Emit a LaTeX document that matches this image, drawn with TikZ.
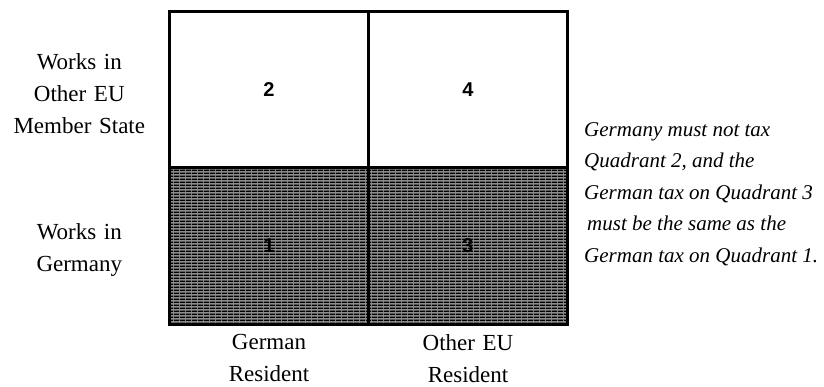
\documentclass[tikz,border=0pt]{standalone}
\usepackage{fontspec}
\setmainfont{Liberation Serif}
\setsansfont{Liberation Sans}
\usepackage{tikz}
\usetikzlibrary{positioning, patterns.meta}

\tikzdeclarepattern{
  name=hatchlines,
  type=uncolored,
  bounding box={(0pt,0pt) and (6pt,3pt)},
  tile size={(6pt,3pt)},
  code={\fill (0pt,0pt) rectangle (6pt,1.8pt);}
}

\begin{document}
\begin{tikzpicture}[
  x=1pt, y=-1pt,
  cell/.style={rectangle, draw, line width=2.6pt, minimum width=199pt, minimum height=156.5pt, inner sep=0pt, outer sep=0pt, font=\sffamily\bfseries\fontsize{20}{20}\selectfont},
  shaded/.style={cell, preaction={fill=black!45}, pattern=hatchlines, pattern color=black},
  rowlabel/.style={align=center, text width=150pt, inner sep=0pt, font=\fontsize{23}{32}\selectfont},
  note/.style={align=left, inner sep=0pt, font=\itshape\fontsize{21}{31.5}\selectfont},
]
  \useasboundingbox (0,0) rectangle (824,386);

  % quadrants
  \node[cell] (q2) at (269,89.5) {2};
  \node[cell, right=0pt of q2] (q4) {4};
  \node[shaded, below=0pt of q2] (q1) {1};
  \node[shaded, right=0pt of q1] (q3) {3};
  \draw[line width=3pt] (q2.north west) rectangle (q3.south east);

  % row and column labels
  \node[rowlabel, left=15pt of q2, yshift=-4pt] (abroad) {Works in\\Other EU\\Member State};
  \node[rowlabel, left=15pt of q1, yshift=-4pt] (home) {Works in\\Germany};
  \node[rowlabel, below=10pt of q1] (resde) {German\\Resident};
  \node[rowlabel, below=10pt of q3] (reseu) {Other EU\\Resident};

  \node[note, anchor=west] (rule) at (584,194) {Germany must not tax\\Quadrant 2, and the\\German tax on Quadrant 3\\\hspace{3pt}must be the same as the\\German tax on Quadrant 1.};
\end{tikzpicture}
\end{document}
